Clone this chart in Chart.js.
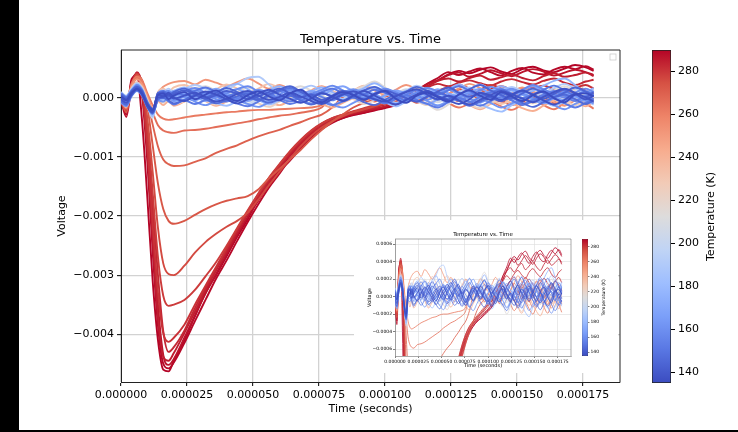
<!DOCTYPE html>
<html>
<head>
<meta charset="utf-8">
<script src="https://cdn.jsdelivr.net/npm/chart.js@4.4.1/dist/chart.umd.min.js"></script>
<style>
  html, body { margin: 0; padding: 0; background: #000; }
  #page { position: relative; width: 738px; height: 432px; overflow: hidden; background: #000; }
  #paper { position: absolute; left: 19px; top: 0; width: 719px; height: 430px; background: #fff; }
  canvas { position: absolute; }
  #main { left: 0; top: 0; }
  #cbar { left: 652px; top: 40px; }
  #inset { position: absolute; left: 354px; top: 220px; width: 264px; height: 153px; background: #fff; }
  #insetPlot { left: 0; top: 0; }
  #insetBar { left: 228px; top: 9px; }
</style>
</head>
<body>
<div id="page">
  <div id="paper"></div>
  <canvas id="main" width="738" height="432"></canvas>
  <canvas id="cbar" width="80" height="355"></canvas>
  <div id="inset">
    <canvas id="insetPlot" width="264" height="153"></canvas>
    <canvas id="insetBar" width="30" height="137"></canvas>
  </div>
</div>
<script>
// time of each sample, microseconds
const timeUs = [0,2,4,6,8,10,12,14,16,18,20,
  24,28,32,36,40,44,48,52,56,60,64,68,72,76,80,84,88,92,96,100,
  104,108,112,116,120,124,128,132,136,140,144,148,152,156,160,164,168,172,176,179];

// voltage traces, in units of 1e-4 V, one per temperature (K)
const v135 = [0.3,-0.4,0.9,1.5,0.7,-1.1,-2.0,0.5,0.8,-0.2,0.4,
  1.0,-0.2,0.6,1.3,0.2,-0.5,0.5,1.1,0.3,-0.4, 0.8,1.4,0.1,-0.7,0.3,1.0,0.5,-0.3,0.7,1.2,
  -0.1,-0.8,0.4,0.9,0.1,-0.6,0.6,1.3,0.4,-0.3, 1.0,0.3,-0.5,0.5,1.1,0.0,-0.7,0.6,0.8,0.3];
const v137 = [0.1,-0.3,0.7,1.6,0.6,-1.3,-2.1,0.6,0.3,0.9,0.1,
  -0.5,0.4,1.1,0.6,-0.2,-0.9,-0.2,0.7,1.4,0.6, -0.1,-0.8,-0.1,0.8,0.3,-0.5,0.4,1.2,0.4,-0.4,
  -1.1,-0.3,0.6,1.2,0.3,-0.4,-1.0,-0.2,0.9,0.4, -0.3,0.6,1.3,0.5,-0.4,-1.1,-0.3,0.7,0.1,-0.6];
const v138 = [-0.2,-0.8,0.6,1.6,1.0,-1.4,-2.4,0.1,0.2,0.6,-0.1,
  0.4,0.9,0.2,-0.6,-0.1,0.7,1.2,0.4,-0.3,0.2, 0.9,0.3,-0.5,-1.0,-0.2,0.6,1.1,0.5,-0.2,-0.6,
  0.3,1.0,1.5,0.6,-0.2,0.4,-0.4,-1.1,-0.3,0.5, 1.2,0.6,-0.1,-0.7,0.2,1.0,1.6,0.8,-0.2,0.4];
const v142 = [0.5,-0.2,1.1,1.9,1.1,-0.9,-1.8,0.6,1.0,0.3,0.7,
  1.3,0.6,-0.1,0.5,1.2,0.7,-0.2,0.3,1.0,1.6, 0.8,0.1,0.6,-0.3,0.4,1.2,0.6,-0.2,0.5,1.3,
  0.7,0.0,-0.6,0.3,1.1,1.8,0.9,0.2,0.8,0.1, -0.5,0.4,1.2,0.6,-0.1,0.7,1.5,0.9,0.2,1.0];
const v144 = [0.6,0.0,1.0,1.7,1.2,-1.0,-2.3,0.9,0.6,0.2,1.0,
  1.6,0.8,0.1,0.9,1.7,1.0,0.3,-0.3,0.6,1.4, 2.0,1.1,0.3,0.9,0.2,-0.4,0.5,1.3,1.9,1.0,
  0.4,1.1,1.9,1.2,0.3,-0.2,0.6,1.5,2.2,1.3, 0.5,-0.1,0.8,1.6,0.9,0.2,0.9,1.8,1.1,0.3];
const v146 = [-0.5,-1.1,0.4,1.3,0.5,-1.5,-2.6,-0.2,0.0,-0.4,-0.9,
  -0.3,0.5,-0.2,-0.9,-0.4,0.3,0.8,-0.1,-0.8,-0.2, 0.4,-0.4,-1.1,-0.5,0.2,0.7,0.1,-0.7,-1.2,-0.3,
  0.5,0.0,-0.6,0.2,0.9,0.3,-0.5,-1.3,-0.6,0.2, 0.8,0.1,-0.8,-1.5,-0.7,0.1,0.6,-0.2,-1.0,-0.4];
const v150 = [0.8,0.2,1.3,2.0,1.3,-0.8,-2.0,0.8,1.2,0.6,1.0,
  0.5,1.2,1.8,1.0,0.3,0.9,0.2,-0.4,0.4,1.1, 1.7,1.0,0.4,1.0,1.6,0.8,0.1,0.6,1.4,0.9,
  0.2,-0.3,0.5,1.2,0.6,1.3,2.0,1.2,0.4,0.9, 1.5,0.7,0.0,0.6,1.4,2.1,1.3,0.5,1.1,0.6];
const v152 = [-0.6,-1.2,0.5,1.4,0.6,-1.4,-2.5,-0.3,0.2,-0.6,-1.1,
  -0.4,-1.0,-0.3,0.5,-0.2,-0.9,-1.4,-0.6,0.3,-0.3, -1.0,-0.5,0.2,-0.4,-1.2,-0.6,0.1,0.7,-0.1,-0.9,
  -0.2,0.5,-0.3,-1.0,-1.6,-0.7,0.0,-0.6,-1.3,-0.5, 0.2,-0.4,-1.2,-0.5,0.4,-0.1,-0.9,-1.6,-0.8,-0.1];
const v154 = [0.0,-0.7,0.7,1.7,0.6,-1.3,-2.3,0.3,0.1,0.7,0.2,
  -0.4,0.3,1.0,0.4,-0.5,-0.1,0.6,1.3,0.7,0.0, -0.6,0.1,0.8,0.2,-0.4,0.5,1.2,0.5,-0.2,-0.8,
  -0.1,0.6,1.3,0.5,-0.3,0.4,0.0,-0.7,0.2,1.0, 0.5,-0.4,-1.0,-0.3,0.6,1.2,0.4,-0.5,0.3,-0.2];
const v158 = [0.6,0.1,1.0,2.2,1.4,-0.6,-1.9,0.4,0.9,1.2,0.5,
  1.1,1.7,0.9,0.2,0.8,1.5,2.0,1.1,0.5,1.2, 0.6,0.0,0.7,1.4,2.1,1.3,0.6,0.0,0.8,1.6,
  1.0,0.3,0.9,1.7,1.1,0.2,-0.4,0.5,1.3,1.9, 1.2,0.6,1.4,2.2,1.5,0.7,0.1,0.9,1.6,1.0];
const v160 = [0.2,-0.6,0.8,1.9,1.1,-0.9,-2.4,0.3,0.9,0.5,-0.2,
  0.5,1.3,0.6,-0.2,-0.6,0.2,1.0,0.4,-0.3,0.6, 1.4,0.7,-0.1,-0.6,0.1,0.9,1.5,0.8,0.0,-0.5,
  0.3,1.1,0.5,-0.3,0.6,1.4,0.7,-0.1,-0.7,0.1, 0.9,1.6,0.8,0.0,-0.6,0.3,1.1,0.5,-0.2,0.7];
const v162 = [-0.8,-1.4,0.3,1.2,0.4,-1.6,-2.7,-0.4,-0.6,0.0,-0.5,
  0.2,-0.6,-1.2,-0.4,0.3,-0.3,-1.0,-1.5,-0.7,0.1, 0.6,-0.2,-0.9,-0.3,-1.1,-1.6,-0.8,0.0,0.5,-0.3,
  -1.0,-0.4,0.3,-0.5,-1.3,-0.6,0.2,0.8,0.0,-0.8, -1.6,-0.9,-0.2,0.4,-0.4,-1.2,-1.9,-1.0,-0.3,-0.9];
const v166 = [0.4,-0.3,1.2,1.8,0.9,-1.0,-2.2,0.2,0.5,-0.1,0.8,
  0.2,-0.4,0.4,1.0,0.5,-0.2,0.6,1.4,0.8,0.0, 0.5,1.1,0.3,-0.5,0.2,0.9,0.4,1.2,1.8,0.9,
  0.1,-0.6,0.2,0.8,0.3,-0.4,0.5,1.1,0.5,-0.1, 0.7,1.4,0.6,-0.3,-0.9,0.0,0.8,0.3,-0.5,0.4];
const v168 = [-0.1,-0.5,1.0,2.0,0.9,-1.1,-2.6,0.5,0.0,0.6,1.2,
  0.6,-0.1,0.8,1.6,0.8,0.1,-0.5,0.3,1.1,0.5, -0.3,0.5,1.2,0.6,1.4,2.0,1.1,0.3,-0.3,0.5,
  1.3,0.7,-0.1,0.6,1.5,0.8,0.1,0.9,1.6,0.7, -0.1,0.6,1.3,2.0,1.2,0.4,-0.4,0.4,1.2,0.5];
const v170 = [-0.3,-0.9,0.5,1.5,0.8,-1.2,-2.5,0.0,0.4,0.9,0.3,
  0.8,0.2,-0.5,0.1,0.9,1.5,0.7,0.0,-0.6,0.2, 1.0,0.5,-0.2,-0.9,-0.2,0.6,1.3,0.6,-0.1,0.4,
  1.1,0.4,-0.4,-1.0,-0.2,0.7,0.2,-0.6,0.1,0.9, 1.6,0.8,0.0,-0.7,0.3,1.0,0.4,-0.4,0.5,1.2];
const v176 = [0.9,0.3,1.4,2.3,1.5,-0.9,-2.6,0.9,1.3,0.7,1.2,
  1.8,1.1,0.4,1.0,1.9,2.4,1.5,0.7,1.3,2.0, 1.2,0.5,1.1,1.8,1.0,0.3,0.9,1.7,2.5,1.6,
  0.8,0.2,1.0,1.7,0.9,1.5,2.3,1.4,0.6,1.2, 2.0,1.3,0.5,1.2,2.1,2.9,3.3,2.2,1.0,1.7];
const v182 = [-0.4,-1.0,0.7,1.9,0.7,-1.4,-3.0,-0.1,-0.3,0.3,-0.6,
  -0.2,0.6,0.0,-0.8,-1.3,-0.5,0.3,-0.3,-1.1,-0.4, 0.4,1.0,0.2,-0.6,-1.2,-0.4,0.3,0.9,0.1,-0.7,
  -1.4,-0.6,0.1,-0.5,-1.2,-0.4,0.5,-0.2,-1.0,-1.8, -2.3,-1.2,-0.3,0.4,-0.5,-1.3,-0.6,0.2,-0.4,-1.1];
const v186 = [0.5,-0.2,1.2,2.2,1.3,-1.0,-3.1,0.4,0.8,1.3,0.6,
  0.1,0.9,1.7,1.0,0.2,-0.5,0.3,1.2,0.6,-0.2, 0.5,1.4,2.1,1.3,0.5,-0.2,0.6,1.4,0.7,-0.1,
  -0.8,0.1,0.9,1.6,0.8,0.0,0.7,1.5,2.3,1.4, 0.6,-0.2,0.7,1.5,0.8,0.1,-0.6,0.3,1.0,0.4];
const v190 = [1.0,0.4,1.6,2.5,1.6,-0.7,-2.9,0.7,1.1,1.6,0.9,
  1.5,2.2,1.6,0.8,1.4,2.4,3.4,3.6,2.3,1.2, 1.8,1.0,0.4,1.2,2.0,1.3,0.6,1.1,1.9,1.2,
  0.5,1.3,2.1,1.4,0.7,0.2,1.0,1.8,1.1,0.4, 1.2,1.9,1.1,0.3,0.9,1.7,2.4,1.6,0.8,1.5];
const v198 = [0.2,-0.5,0.9,2.0,1.2,-1.1,-3.2,0.1,0.7,0.2,1.1,
  0.4,-0.3,0.5,1.2,0.6,-0.4,-1.0,-0.2,0.7,1.3, 0.5,-0.2,0.4,1.1,0.3,-0.5,0.2,0.9,0.2,-0.6,
  0.1,0.8,1.5,0.7,-0.1,-0.8,0.0,0.9,0.4,-0.3, 0.5,1.2,0.6,-0.2,0.3,1.1,0.5,-0.3,0.6,1.3];
const v206 = [-0.1,-0.7,1.1,2.2,1.0,-1.3,-3.4,0.4,0.2,-0.5,0.3,
  1.1,0.4,-0.4,0.3,1.0,0.2,-0.6,0.1,0.9,1.6, 0.8,0.0,0.6,1.4,0.7,-0.2,0.5,1.3,0.6,-0.1,
  0.7,1.5,0.8,0.1,-0.7,0.2,1.0,0.3,-0.4,0.4, 1.2,0.5,-0.3,0.5,1.3,0.6,-0.2,0.5,1.2,0.4];
const v214 = [0.6,0.0,1.3,2.4,1.3,-0.8,-3.1,0.8,1.2,0.4,1.3,
  0.7,1.5,2.0,1.2,0.4,1.0,1.8,1.1,0.3,1.0, 1.4,2.0,1.3,0.5,-0.3,0.4,1.2,2.0,2.8,1.8,
  0.6,0.2,-0.4,-1.0,-2.0,-1.1,0.3,1.1,0.5,-0.4, 0.4,1.2,0.6,-0.3,0.5,1.3,2.0,1.2,0.5,1.1];
const v222 = [-0.6,-1.3,0.8,2.1,1.4,-0.6,-2.8,-0.3,-0.8,-0.2,-1.0,
  -0.5,0.3,-0.4,-1.1,-0.3,0.5,-0.2,-0.9,-1.5,-0.6, 0.2,0.9,0.1,-0.7,-0.1,0.6,-0.2,-1.0,-0.4,0.4,
  1.0,0.3,-0.5,-1.2,-0.4,0.3,-0.3,-1.1,-1.7,-0.8, 0.0,0.7,-0.1,-0.9,-0.2,0.5,-0.4,-1.2,-0.5,0.2];
const v232 = [0.8,0.3,1.7,2.7,1.9,-0.2,-2.4,1.0,1.6,1.1,1.8,
  2.2,1.4,0.8,1.5,2.3,1.6,0.9,1.6,2.4,1.7, 1.0,0.4,1.1,1.9,1.2,0.5,1.3,2.1,1.5,0.7,
  0.2,1.0,1.8,1.1,0.4,-0.3,0.5,1.3,0.6,-0.2, -1.0,-0.3,0.6,1.4,0.7,-0.1,-0.9,-0.2,0.7,1.3];
const v242 = [-0.3,-1.6,1.0,2.6,1.8,-0.3,-2.6,-0.5,-1.2,-0.5,-1.3,
  -0.6,0.2,-0.5,-1.3,-0.6,0.2,0.9,0.2,-0.6,-1.2, -0.4,0.4,-0.3,-1.0,-1.6,-0.8,0.0,0.6,-0.2,-0.9,
  -0.3,0.5,-0.2,-0.9,-0.3,0.4,-0.4,-1.2,-1.9,-1.0, -0.2,-0.9,-1.7,-2.2,-1.3,-0.4,0.3,-0.5,-1.4,-0.6];
const v252 = [0.4,-0.9,2.0,3.2,2.4,0.3,-1.8,0.9,1.9,2.4,2.7,
  2.9,2.3,3.1,2.6,2.0,2.7,3.3,2.5,1.6,2.2, 1.4,0.7,1.3,2.0,1.2,0.5,1.2,2.0,1.3,0.6,
  1.4,2.2,1.5,0.8,0.0,0.7,1.6,2.4,1.7,0.9, 0.3,1.0,1.8,1.1,0.4,-0.5,-1.3,-0.4,0.5,-0.2];
const v262 = [0.3,-1.0,2.4,3.6,3.0,0.8,-1.2,-2.8,-3.5,-3.7,-3.6,
  -3.3,-3.0,-2.8,-2.6,-2.4,-2.3,-2.1,-2.0,-2.0,-1.9, -1.8,-1.7,-1.6,-1.2,0.2,-0.5,0.3,1.1,0.6,-0.3,
  -1.0,-0.4,0.6,1.2,0.3,-0.8,-1.6,-0.9,0.2,-0.5, -1.4,-2.0,-1.1,-0.3,-1.2,-1.9,-0.8,0.1,-0.9,-1.8];
const v266 = [-0.3,-1.8,1.8,3.2,2.8,0.2,-2.4,-4.6,-5.5,-5.8,-5.9,
  -5.5,-5.4,-5.2,-4.9,-4.6,-4.3,-4.0,-3.6,-3.3,-3.0, -2.8,-2.5,-2.2,-1.6,0.4,1.2,0.5,-0.4,0.6,1.5,
  0.8,-0.2,0.5,1.3,0.4,-0.6,0.2,1.0,0.3,-0.7, 0.1,0.9,1.7,0.8,-0.2,0.6,1.4,0.5,-0.4,0.3];
const v270 = [0.2,-1.4,2.0,3.4,2.6,-0.5,-4.5,-8.2,-10.4,-11.2,-11.5,
  -11.4,-10.8,-10.2,-9.3,-8.6,-8.0,-7.2,-6.5,-5.9,-5.4, -4.7,-4.1,-3.4,-2.8,-1.6,0.2,1.0,0.4,-0.6,0.2,
  1.0,0.3,-0.8,0.0,0.9,0.4,-0.5,0.6,1.4,0.5, -0.4,-1.2,-0.3,0.8,0.2,-0.9,-0.2,0.7,-0.3,-0.8];
const v273 = [-0.4,-2.4,1.5,3.8,3.0,-1.5,-8.0,-14.5,-18.8,-20.8,-21.3,
  -20.8,-19.8,-18.8,-18.0,-17.4,-17.0,-16.6,-15.5,-13.6,-12.0, -10.4,-8.8,-7.0,-5.4,-4.0,-2.8,-1.6,-0.8,-0.3,0.4,
  -0.5,0.8,1.4,0.6,-0.3,0.7,1.5,0.8,-0.2,0.6, 1.3,0.5,-0.6,0.2,1.0,0.4,-0.5,0.3,1.1,0.6];
const v276 = [0.1,-1.6,1.8,4.0,2.4,-3.5,-12.5,-22.0,-28.0,-29.8,-30.0,
  -28.4,-26.2,-24.4,-23.0,-21.8,-20.8,-19.4,-17.2,-14.8,-12.5, -10.3,-8.2,-6.4,-5.0,-3.9,-3.1,-2.4,-1.9,-1.4,-0.9,
  -0.5,0.2,-0.4,0.5,1.0,0.2,-0.5,0.4,1.1,0.3, -0.6,0.2,0.9,0.1,-0.7,0.3,1.0,0.2,-0.4,0.5];
const v279 = [-0.2,-2.0,2.2,4.2,2.0,-5.0,-16.0,-27.0,-33.5,-35.2,-35.0,
  -34.2,-32.5,-30.2,-27.8,-25.0,-22.0,-19.0,-16.2,-13.5,-11.2, -9.0,-7.1,-5.5,-4.3,-3.4,-2.8,-2.2,-1.7,-1.2,-0.8,
  -0.5,0.1,0.8,0.3,1.2,1.8,1.1,0.6,1.4,2.2, 1.6,0.8,1.3,1.9,1.2,0.5,1.1,1.8,1.3,0.7];
const v281 = [0.3,-1.2,2.4,4.0,1.2,-8.0,-21.5,-33.0,-39.8,-41.3,-40.6,
  -38.4,-35.0,-31.8,-28.6,-25.4,-22.2,-19.2,-16.2,-13.6,-11.3, -9.1,-7.2,-5.6,-4.3,-3.4,-2.8,-2.3,-1.9,-1.4,-0.9,
  -0.4,0.3,0.9,1.5,1.2,1.8,2.2,1.6,1.0,1.5, 2.0,1.4,0.9,1.6,2.1,1.5,1.0,1.7,2.2,1.6];
const v283 = [-0.6,-2.2,1.6,3.9,1.5,-6.5,-18.0,-30.0,-39.5,-43.0,-42.2,
  -39.4,-35.6,-32.2,-28.9,-25.6,-22.4,-19.4,-16.5,-13.9,-11.5, -9.3,-7.4,-5.8,-4.5,-3.6,-3.0,-2.5,-2.0,-1.6,-1.1,
  -0.5,0.4,1.2,1.8,2.4,2.0,2.6,3.0,2.5,2.1, 2.8,3.2,2.7,2.3,2.9,3.3,2.6,2.2,2.8,3.1];
const v285 = [0.0,-1.8,2.5,3.6,0.8,-9.0,-24.0,-37.0,-43.8,-44.5,-43.2,
  -39.8,-36.2,-32.6,-29.2,-26.0,-22.8,-19.6,-16.8,-14.2,-11.8, -9.6,-7.7,-6.0,-4.7,-3.8,-3.1,-2.6,-2.2,-1.8,-1.4,
  -0.8,0.2,1.2,2.0,2.9,3.3,2.8,3.4,3.8,3.1, 3.5,4.0,3.4,3.0,3.7,4.2,3.6,3.9,4.3,3.7];
const v287 = [-0.4,-3.2,2.0,4.4,2.2,-6.0,-21.0,-35.0,-43.5,-45.2,-44.2,
  -40.6,-36.8,-33.1,-29.8,-26.4,-23.2,-20.1,-17.4,-14.6,-12.1, -9.8,-8.0,-6.2,-4.9,-3.8,-3.2,-2.7,-2.3,-1.9,-1.5,
  -0.9,0.0,1.3,2.4,3.0,3.9,4.3,3.6,4.1,4.7, 4.2,3.7,4.4,4.9,4.5,3.8,4.3,4.8,4.4,3.9];
const v289 = [0.2,-1.5,2.8,4.1,0.5,-11.0,-26.0,-38.5,-45.0,-45.8,-44.8,
  -41.5,-37.8,-34.2,-30.6,-27.5,-24.2,-21.0,-18.0,-15.2,-12.8, -10.3,-8.2,-6.4,-5.0,-4.0,-3.4,-2.8,-2.5,-2.0,-1.6,
  -1.1,-0.2,1.0,2.4,3.4,4.4,3.9,4.5,5.0,4.4, 3.8,4.6,5.1,4.3,4.0,4.8,5.3,4.9,5.4,4.8];
const v290 = [-0.3,-2.8,3.2,3.8,-4.0,-17.0,-31.0,-41.0,-46.0,-46.3,-44.5,
  -41.0,-37.0,-33.0,-30.0,-26.8,-23.5,-20.5,-17.2,-14.8,-12.4, -10.6,-8.6,-6.8,-5.3,-4.2,-3.4,-2.9,-2.5,-2.1,-1.7,
  -1.2,-0.4,0.8,2.0,3.0,4.0,4.6,4.2,4.8,5.2, 4.5,4.1,4.9,5.3,4.7,4.4,5.0,5.6,5.2,4.6];

// coldest first: Chart.js paints dataset 0 on top
const traces = [
  [135, v135], [137, v137], [138, v138], [142, v142], [144, v144], [146, v146],
  [150, v150], [152, v152], [154, v154], [158, v158], [160, v160], [162, v162],
  [166, v166], [168, v168], [170, v170], [176, v176], [182, v182], [186, v186],
  [190, v190], [198, v198], [206, v206], [214, v214], [222, v222], [232, v232],
  [242, v242], [252, v252], [262, v262], [266, v266], [270, v270], [273, v273],
  [276, v276], [279, v279], [281, v281], [283, v283], [285, v285], [287, v287],
  [289, v289], [290, v290]
];

const timeTicks = [0, 0.000025, 0.00005, 0.000075, 0.0001, 0.000125, 0.00015, 0.000175];
const mainVoltTicks = [0, -0.001, -0.002, -0.003, -0.004];
const insetVoltTicks = [-0.0006, -0.0004, -0.0002, 0, 0.0002, 0.0004, 0.0006];
const tempTicks = [140, 160, 180, 200, 220, 240, 260, 280];
const TEMP_MIN = 135, TEMP_MAX = 290;

const coolwarmStops = ['#3b4cc0','#5977e3','#7b9ff9','#9ebeff','#c0d4f5','#dddcdc',
                       '#f2cbb7','#f7ac8e','#ee8468','#d65244','#b40426'];

function hexRgb(h) {
  return [1, 3, 5].map(i => parseInt(h.slice(i, i + 2), 16));
}
function coolwarm(f) {
  f = Math.min(1, Math.max(0, f));
  const n = coolwarmStops.length;
  const p = f * (n - 1);
  const i = Math.min(n - 2, Math.floor(p));
  const u = p - i;
  const a = hexRgb(coolwarmStops[i]), b = hexRgb(coolwarmStops[i + 1]);
  const c = a.map((v, k) => Math.round(v + (b[k] - v) * u));
  return `rgb(${c[0]},${c[1]},${c[2]})`;
}

Chart.defaults.font.family = "'DejaVu Sans', sans-serif";
Chart.defaults.color = '#000';

const minus = s => s.replace('-', '\u2212');

function buildSets(lw) {
  return traces.map(([temp, vals]) => ({
    data: timeUs.map((t, i) => ({ x: t * 1e-6, y: vals[i] * 1e-4 })),
    borderColor: coolwarm((temp - TEMP_MIN) / (TEMP_MAX - TEMP_MIN)),
    borderWidth: lw,
    pointRadius: 0,
    cubicInterpolationMode: 'monotone',
    fill: false
  }));
}

// top and right spines, the empty legend box, and the title centred over the axes
const framePlugin = {
  id: 'frame',
  afterDatasetsDraw(chart, args, opts) {
    const a = chart.chartArea, c = chart.ctx;
    c.save();
    c.strokeStyle = opts.color;
    c.lineWidth = opts.width;
    c.beginPath();
    c.moveTo(a.left, a.top);
    c.lineTo(a.right, a.top);
    c.lineTo(a.right, a.bottom);
    c.stroke();
    if (opts.box) {
      c.strokeStyle = '#cccccc';
      c.lineWidth = 0.8;
      c.strokeRect(a.right - opts.box - 4, a.top + 4, opts.box, opts.box);
    }
    c.fillStyle = '#000';
    c.font = `${opts.titleSize}px 'DejaVu Sans'`;
    c.textAlign = 'center';
    c.textBaseline = 'middle';
    c.fillText('Temperature vs. Time', (a.left + a.right) / 2, a.top - opts.titleOff);
    c.restore();
  }
};

function makePlot(canvas, o) {
  return new Chart(canvas, {
    type: 'line',
    data: { datasets: buildSets(o.lw) },
    options: {
      responsive: false,
      animation: false,
      events: [],
      layout: { padding: o.pad },
      plugins: {
        legend: { display: false },
        tooltip: { enabled: false },
        title: { display: false },
        frame: { color: o.spine, width: o.spineW, box: o.box, titleSize: o.titleSize, titleOff: o.titleOff }
      },
      scales: {
        x: {
          type: 'linear', min: 0, max: 0.000189,
          afterBuildTicks: s => { s.ticks = timeTicks.map(v => ({ value: v })); },
          afterFit: s => { s.height = o.xH; },
          ticks: { callback: v => v.toFixed(6), font: { size: o.tickSize }, color: '#000',
                   maxRotation: 0, autoSkip: false, padding: o.tickPad },
          grid: { color: o.gridC, lineWidth: o.gridW, tickLength: o.tickLen, tickColor: '#000', tickWidth: o.spineW },
          border: { color: o.spine, width: o.spineW },
          title: { display: true, text: 'Time (seconds)', font: { size: o.labelSize }, color: '#000',
                   padding: o.xTitlePad }
        },
        y: {
          type: 'linear', min: o.yMin, max: o.yMax,
          afterBuildTicks: s => { s.ticks = o.yTicks.map(v => ({ value: v })); },
          afterFit: s => { s.width = o.yW; },
          ticks: { callback: v => minus(v.toFixed(o.yDec)), font: { size: o.tickSize }, color: '#000',
                   padding: o.tickPad },
          grid: { color: o.gridC, lineWidth: o.gridW, tickLength: o.tickLen, tickColor: '#000', tickWidth: o.spineW },
          border: { color: o.spine, width: o.spineW },
          title: { display: true, text: 'Voltage', font: { size: o.labelSize }, color: '#000',
                   padding: o.yTitlePad }
        }
      }
    },
    plugins: [framePlugin]
  });
}

const cbarTitle = {
  id: 'cbarTitle',
  afterDraw(chart, args, opts) {
    const a = chart.chartArea, c = chart.ctx;
    c.save();
    c.fillStyle = '#000';
    c.font = `${opts.size}px 'DejaVu Sans'`;
    c.translate(a.right + opts.offset, (a.top + a.bottom) / 2);
    c.rotate(-Math.PI / 2);
    c.textAlign = 'center';
    c.textBaseline = 'middle';
    c.fillText('Temperature (K)', 0, 0);
    c.restore();
  }
};

function cbarFill(ctx) {
  const chart = ctx.chart, a = chart.chartArea;
  if (!a || !isFinite(a.top) || !isFinite(a.bottom)) return coolwarmStops[5];
  const g = chart.ctx.createLinearGradient(0, a.bottom, 0, a.top);
  coolwarmStops.forEach((c, i) => g.addColorStop(i / (coolwarmStops.length - 1), c));
  return g;
}

function makeColorbar(canvas, o) {
  const chart = new Chart(canvas, {
    type: 'bar',
    data: {
      labels: [''],
      datasets: [{
        data: [[TEMP_MIN, TEMP_MAX]],
        backgroundColor: cbarFill,
        borderColor: '#222', borderWidth: o.border, borderSkipped: false,
        barPercentage: 1, categoryPercentage: 1
      }]
    },
    options: {
      responsive: false, animation: false, events: [],
      layout: { padding: o.pad },
      plugins: { legend: { display: false }, tooltip: { enabled: false },
                 cbarTitle: { size: o.titleSize, offset: o.titleOff } },
      scales: {
        x: { display: false },
        y: {
          position: 'right', min: TEMP_MIN, max: TEMP_MAX,
          afterBuildTicks: s => { s.ticks = tempTicks.map(v => ({ value: v })); },
          afterFit: s => { s.width = o.axisW; },
          grid: { drawOnChartArea: false, tickLength: o.tickLen, tickColor: '#000', tickWidth: o.border },
          border: { display: false },
          ticks: { font: { size: o.tickSize }, color: '#000', padding: o.tickPad }
        }
      }
    },
    plugins: [cbarTitle]
  });
  chart.update();
  return chart;
}

makePlot(document.getElementById('main'), {
  lw: 1.9, pad: { left: 54, right: 118, top: 50, bottom: 14 },
  titleSize: 13, titleOff: 10,
  xH: 36, yW: 67, tickSize: 11, labelSize: 11, tickPad: 3, tickLen: 4,
  gridC: '#d2d2d2', gridW: 1.3, spine: '#222', spineW: 1,
  xTitlePad: { top: 2, bottom: 2 }, yTitlePad: { top: 2, bottom: 2 },
  yMin: -0.00481, yMax: 0.000814, yTicks: mainVoltTicks, yDec: 3, box: 6
});

makeColorbar(document.getElementById('cbar'), {
  pad: { left: 0, right: 0, top: 10, bottom: 12 },
  axisW: 61, tickLen: 4, tickPad: 3, tickSize: 11, border: 1,
  titleSize: 11, titleOff: 40
});

makePlot(document.getElementById('insetPlot'), {
  lw: 0.8, pad: { left: 12, right: 47, top: 19, bottom: 4 },
  titleSize: 5.5, titleOff: 4.3,
  xH: 13, yW: 29, tickSize: 4.5, labelSize: 5, tickPad: 1, tickLen: 2,
  gridC: '#dcdcdc', gridW: 0.6, spine: '#555', spineW: 0.5,
  xTitlePad: { top: 0, bottom: 0 }, yTitlePad: { top: 1, bottom: 1 },
  yMin: -0.00068, yMax: 0.00066, yTicks: insetVoltTicks, yDec: 4, box: 0
});

makeColorbar(document.getElementById('insetBar'), {
  pad: { left: 0, right: 0, top: 10, bottom: 10 },
  axisW: 24, tickLen: 1.5, tickPad: 1, tickSize: 4.5, border: 0.5,
  titleSize: 4.5, titleOff: 16
});
</script>
</body>
</html>
